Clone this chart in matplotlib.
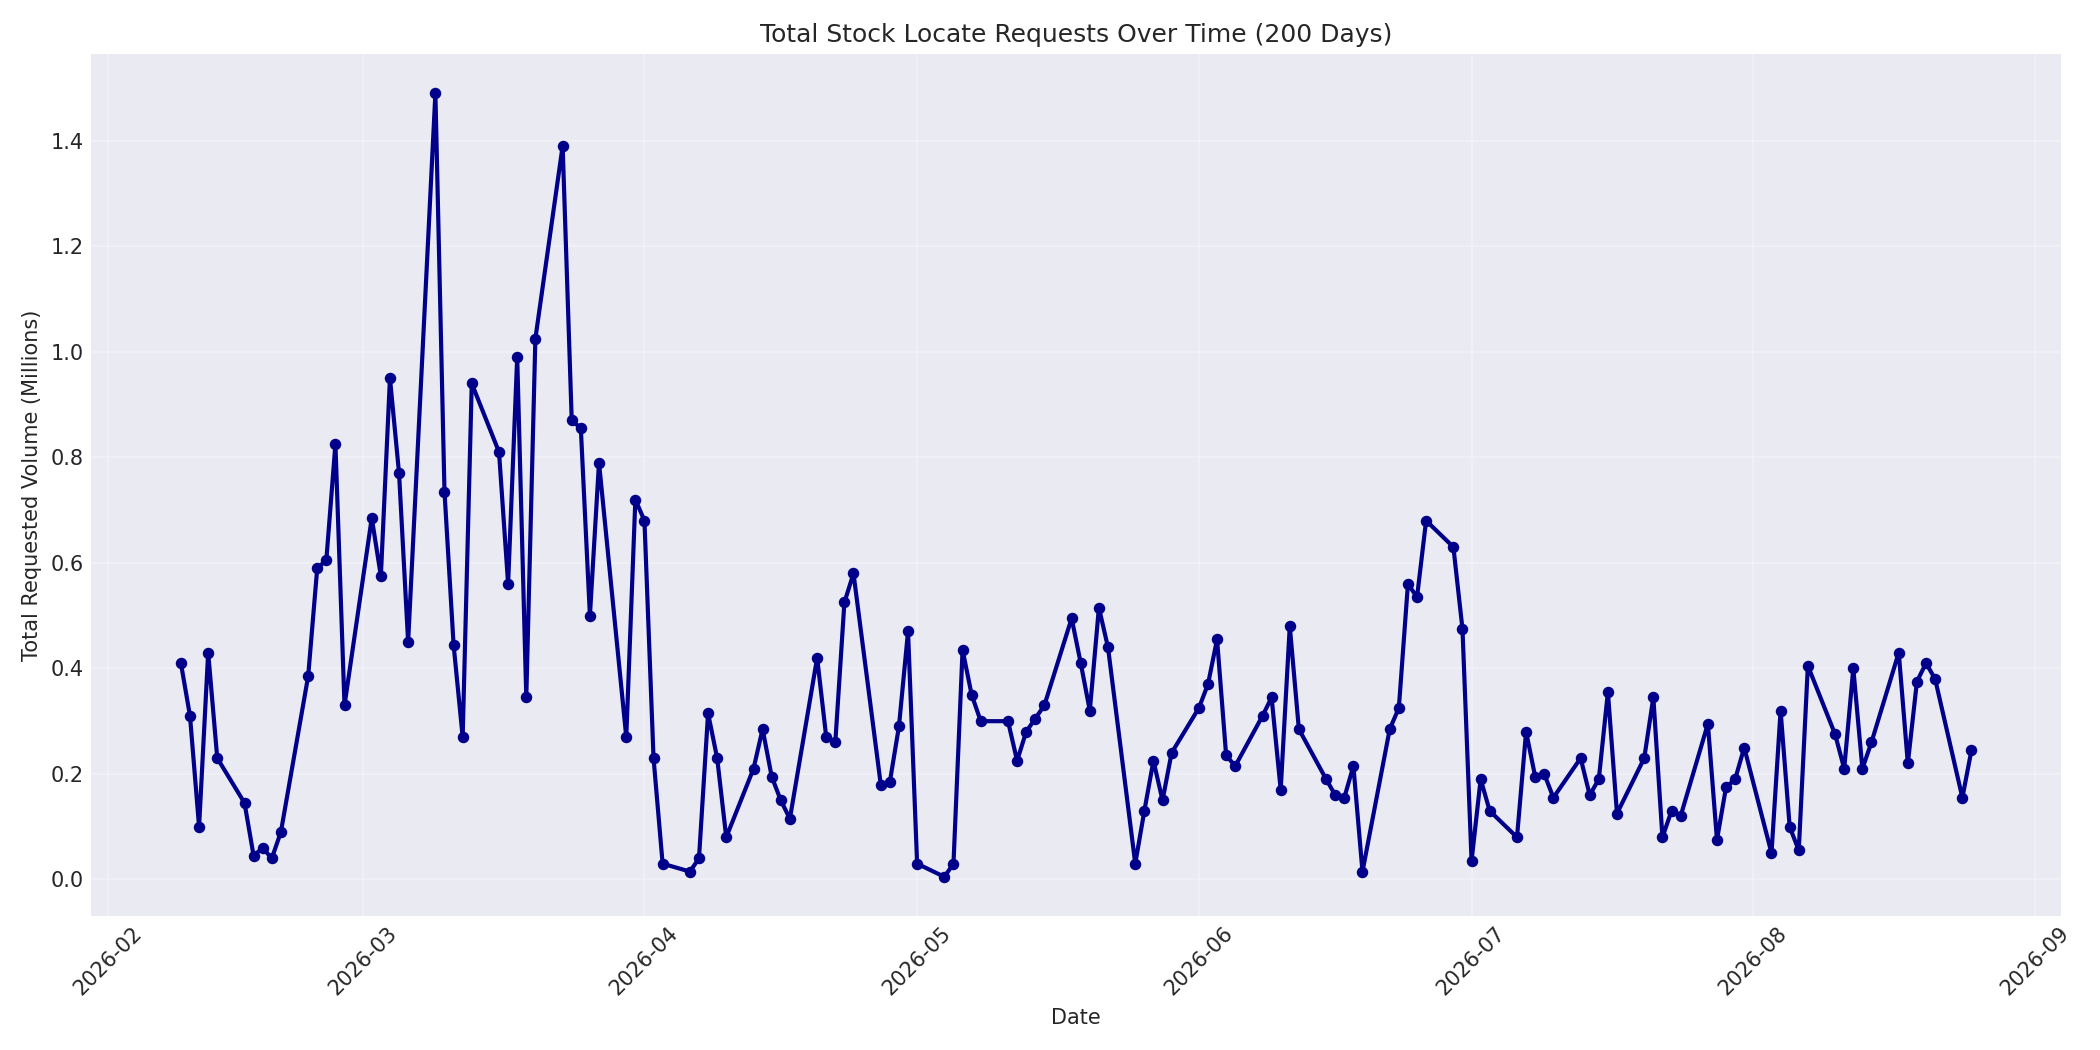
import matplotlib
matplotlib.use("Agg")
import matplotlib.pyplot as plt
import pandas as pd

# business days, 2026-02-09 .. 2026-08-25
dates = pd.bdate_range("2026-02-09", "2026-08-25")

volume = [
    0.41, 0.31, 0.10, 0.43, 0.23,
    0.145, 0.045, 0.06, 0.04, 0.09,
    0.385, 0.59, 0.605, 0.825, 0.33,
    0.685, 0.575, 0.95, 0.77, 0.45,
    1.49, 0.735, 0.445, 0.27, 0.94,
    0.81, 0.56, 0.99, 0.345, 1.025,
    1.39, 0.87, 0.855, 0.50, 0.79,
    0.27, 0.72, 0.68, 0.23, 0.03,
    0.015, 0.04, 0.315, 0.23, 0.08,
    0.21, 0.285, 0.195, 0.15, 0.115,
    0.42, 0.27, 0.26, 0.525, 0.58,
    0.18, 0.185, 0.29, 0.47, 0.03,
    0.005, 0.03, 0.435, 0.35, 0.30,
    0.30, 0.225, 0.28, 0.305, 0.33,
    0.495, 0.41, 0.32, 0.515, 0.44,
    0.03, 0.13, 0.225, 0.15, 0.24,
    0.325, 0.37, 0.455, 0.235, 0.215,
    0.31, 0.345, 0.17, 0.48, 0.285,
    0.19, 0.16, 0.155, 0.215, 0.015,
    0.285, 0.325, 0.56, 0.535, 0.68,
    0.63, 0.475, 0.035, 0.19, 0.13,
    0.08, 0.28, 0.195, 0.20, 0.155,
    0.23, 0.16, 0.19, 0.355, 0.125,
    0.23, 0.345, 0.08, 0.13, 0.12,
    0.295, 0.075, 0.175, 0.19, 0.25,
    0.05, 0.32, 0.10, 0.055, 0.405,
    0.275, 0.21, 0.40, 0.21, 0.26,
    0.43, 0.22, 0.375, 0.41, 0.38,
    0.155, 0.245,
]

plt.style.use("seaborn-v0_8-darkgrid")
plt.rcParams["font.family"] = ["DejaVu Sans"]
fig, ax = plt.subplots(figsize=(14, 7), dpi=150)
ax.plot(dates, volume, color="darkblue", linewidth=2, marker="o", markersize=4.5)
ax.set_title("Total Stock Locate Requests Over Time (200 Days)", fontsize=12)
ax.set_xlabel("Date", fontsize=10)
ax.set_ylabel("Total Requested Volume (Millions)", fontsize=10)
ax.tick_params(labelsize=10)
ax.grid(True, alpha=0.3)
plt.xticks(rotation=45)
plt.tight_layout()
plt.savefig("out.png")
